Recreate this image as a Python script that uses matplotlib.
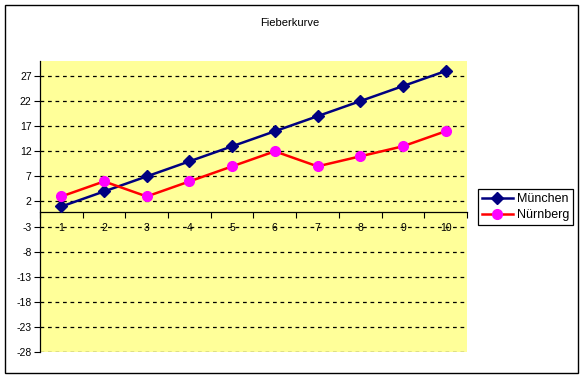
import numpy as np
import matplotlib.pyplot as plt
from matplotlib.patches import Rectangle

# Data
days = [1, 2, 3, 4, 5, 6, 7, 8, 9, 10]
muenchen = [1, 4, 7, 10, 13, 16, 19, 22, 25, 28]
nuernberg = [3, 6, 3, 6, 9, 12, 9, 11, 13, 16]
y_ticks = [-28, -23, -18, -13, -8, -3, 2, 7, 12, 17, 22, 27]

plt.rcParams['font.family'] = ['Liberation Sans', 'DejaVu Sans']

fig = plt.figure(figsize=(5.85, 3.78), dpi=100)

# outer chart frame
fig.patches.append(Rectangle((5 / 585, 1 - 373 / 378), 573 / 585, 368 / 378,
                             transform=fig.transFigure, fill=False,
                             edgecolor='black', linewidth=1))

ax = fig.add_axes([40 / 585, 1 - 352 / 378, 427 / 585, 291 / 378])
ax.set_facecolor('#FFFF99')

ax.plot(days, muenchen, color='#000080', linewidth=1.8, marker='D',
        markersize=6, markerfacecolor='#000080', markeredgecolor='#000080',
        label='München', zorder=4)
ax.plot(days, nuernberg, color='#FF0000', linewidth=1.8, marker='o',
        markersize=7, markerfacecolor='#FF00FF', markeredgecolor='#FF00FF',
        label='Nürnberg', zorder=4)

ax.set_xlim(0.5, 10.5)
ax.set_ylim(-28, 30)
ax.set_yticks(y_ticks)
ax.set_yticklabels([str(v) for v in y_ticks])
ax.yaxis.grid(True, linestyle=(0, (3, 3)), color='black', linewidth=0.9)
ax.set_axisbelow(True)

ax.set_xticks(days)
ax.set_xticklabels([str(d) for d in days])
ax.set_xticks(np.arange(0.5, 11, 1), minor=True)
ax.tick_params(axis='x', which='major', length=0, pad=8, labelsize=7.5)
ax.tick_params(axis='x', which='minor', length=4, direction='out', width=0.8)
ax.tick_params(axis='y', length=4, width=0.8, pad=2, labelsize=7.5)

ax.spines['top'].set_visible(False)
ax.spines['right'].set_visible(False)
ax.spines['bottom'].set_position(('data', 0))
ax.spines['bottom'].set_linewidth(0.9)
ax.spines['left'].set_linewidth(0.9)

fig.text(290 / 585, 1 - 23 / 378, 'Fieberkurve', ha='center', va='center',
         fontsize=8)

leg = ax.legend(loc='center left', bbox_to_anchor=(478 / 585, 1 - 207 / 378),
                bbox_transform=fig.transFigure, fontsize=9, frameon=True,
                fancybox=False, edgecolor='black', framealpha=1,
                handlelength=2.5, borderpad=0.3, labelspacing=0.3,
                handletextpad=0.3, borderaxespad=0)
leg.get_frame().set_linewidth(0.9)

fig.savefig('out.png', dpi=100)
